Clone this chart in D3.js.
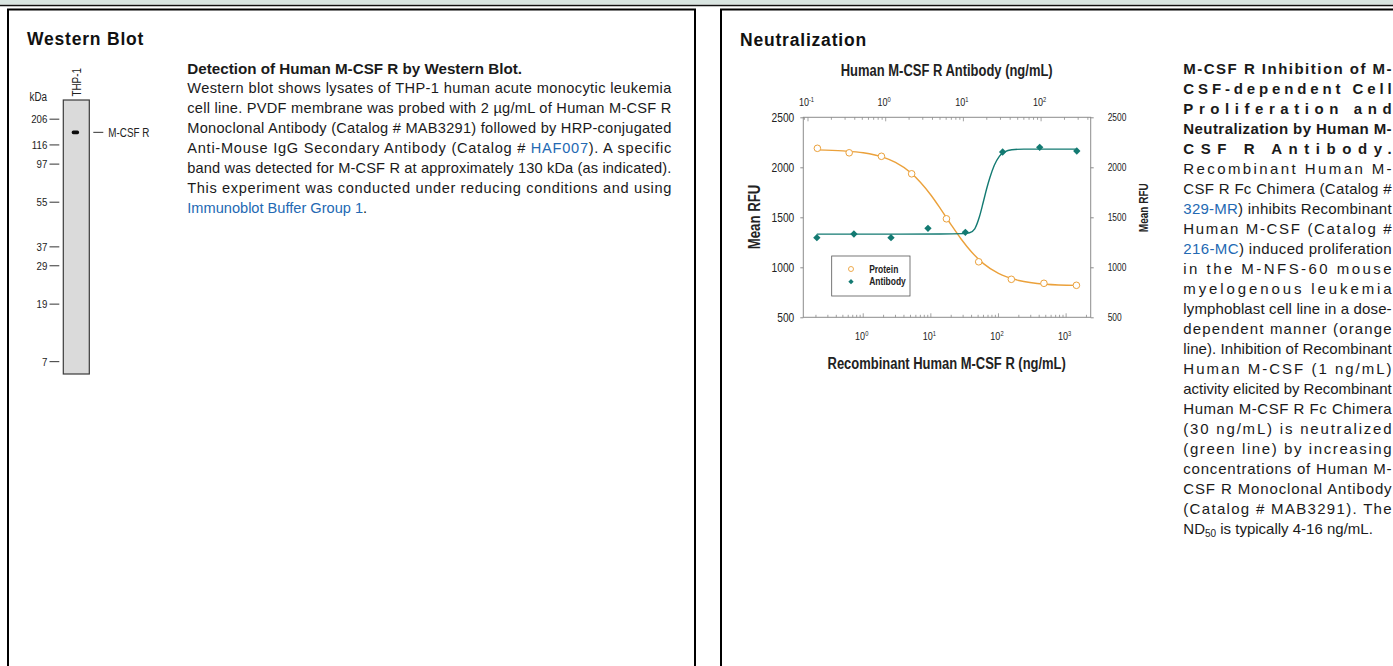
<!DOCTYPE html>
<html>
<head>
<meta charset="utf-8">
<script src="https://cdn.jsdelivr.net/npm/d3@7"></script>
<style>
    body { margin: 0; background: #fff; }
    svg { display: block; }
</style>
</head>
<body>
<svg id="page" width="1393" height="666"></svg>
<script>
//---- western blot data ----
var laneNames = [ "THP-1" ];
var markerKda = [ 206, 116, 97, 55, 37, 29, 19, 7 ];
//relative migration of each marker down the lane (0 = top, 1 = bottom)
var markerMigration = [ 0.070, 0.164, 0.234, 0.373, 0.536, 0.605, 0.745, 0.955 ];
var bandNames = [ "M-CSF R" ];
var bandMigration = [ 0.118 ];

//---- neutralization data ----
var proteinConc = [ 0.21, 0.62, 1.86, 5.2, 17, 51, 155, 470, 1420 ];
var proteinRFU  = [ 2190, 2145, 2110, 1935, 1485, 1055, 880, 840, 820 ];
var antibodyConc = [ 0.13, 0.39, 1.17, 3.5, 10.6, 32, 96, 288 ];
var antibodyRFU  = [ 1296, 1333, 1296, 1390, 1350, 2153, 2200, 2163 ];
//fitted curves
var proteinFitConc = [ 0.21, 0.5, 1, 2, 3, 5, 7, 10, 14, 20, 28, 40, 60, 100, 200, 500, 1420 ];
var proteinFitRFU  = [ 2174, 2164, 2145, 2099, 2049, 1948, 1851, 1723, 1582, 1424, 1283, 1153, 1037, 939, 868, 831, 819 ];
var antibodyFitConc = [ 0.13, 1, 5, 10, 12, 14, 16, 18, 20, 22, 25, 29, 34, 42, 60, 288 ];
var antibodyFitRFU  = [ 1332, 1332, 1333, 1337, 1345, 1385, 1500, 1650, 1790, 1900, 2020, 2110, 2155, 2176, 2182, 2182 ];
var rfuTicks = [ 500, 1000, 1500, 2000, 2500 ];
var proteinMajor = [ 1, 10, 100, 1000 ];
var antibodyMajor = [ 0.1, 1, 10, 100 ];
var legendNames = [ "Protein", "Antibody" ];

//---- panel texts ({...} marks a link) ----
var blotTitle = "Western Blot";
var neutTitle = "Neutralization";
var blotHeading = "Detection of Human M-CSF R by Western Blot.";
var blotLines = [
    "Western blot shows lysates of THP-1 human acute monocytic leukemia",
    "cell line. PVDF membrane was probed with 2 µg/mL of Human M-CSF R",
    "Monoclonal Antibody (Catalog # MAB3291) followed by HRP-conjugated",
    "Anti-Mouse IgG Secondary Antibody (Catalog # {HAF007}). A specific",
    "band was detected for M-CSF R at approximately 130 kDa (as indicated).",
    "This experiment was conducted under reducing conditions and using",
    "{Immunoblot Buffer Group 1}."
];
var neutBold = [
    "M-CSF R Inhibition of M-",
    "CSF-dependent Cell",
    "Proliferation and",
    "Neutralization by Human M-",
    "CSF R Antibody."
];
var neutLines = [
    "Recombinant Human M-",
    "CSF R Fc Chimera (Catalog #",
    "{329-MR}) inhibits Recombinant",
    "Human M-CSF (Catalog #",
    "{216-MC}) induced proliferation",
    "in the M-NFS-60 mouse",
    "myelogenous leukemia",
    "lymphoblast cell line in a dose-",
    "dependent manner (orange",
    "line). Inhibition of Recombinant",
    "Human M-CSF (1 ng/mL)",
    "activity elicited by Recombinant",
    "Human M-CSF R Fc Chimera",
    "(30 ng/mL) is neutralized",
    "(green line) by increasing",
    "concentrations of Human M-",
    "CSF R Monoclonal Antibody",
    "(Catalog # MAB3291). The"
];

var SANS = "'Liberation Sans', Arial, sans-serif";
var ORANGE = "#eba13b", TEAL = "#137a72", LINK = "#2369b3", INK = "#1a1a1a";

var svg = d3.select( "#page" );

//no condensed face is installed: squeeze the regular one
function condense( sel, k ) {
    sel.each( function() {
        var w = this.getComputedTextLength();
        d3.select( this ).attr( "textLength", w * k ).attr( "lengthAdjust", "spacingAndGlyphs" );
    } );
    return sel;
}

//---- page frame ----
svg.append( "rect" ).attr( "x", 0 ).attr( "y", 0 ).attr( "width", 1393 ).attr( "height", 4.5 )
    .attr( "fill", "#d9e5e1" );
svg.append( "line" ).attr( "x1", 0 ).attr( "x2", 1393 ).attr( "y1", 5.5 ).attr( "y2", 5.5 )
    .attr( "stroke", "#111" ).attr( "stroke-width", 1.6 );
svg.append( "path" ).attr( "d", "M8,670V9.5H695V670" )
    .attr( "fill", "none" ).attr( "stroke", "#000" ).attr( "stroke-width", 2 );
svg.append( "path" ).attr( "d", "M721,670V9.5H1396" )
    .attr( "fill", "none" ).attr( "stroke", "#000" ).attr( "stroke-width", 2 );

svg.append( "text" ).attr( "x", 27 ).attr( "y", 45 ).text( blotTitle )
    .style( "font", "bold 17.5px " + SANS ).style( "letter-spacing", "0.8px" ).attr( "fill", "#111" );
svg.append( "text" ).attr( "x", 740 ).attr( "y", 45.5 ).text( neutTitle )
    .style( "font", "bold 17.5px " + SANS ).style( "letter-spacing", "0.8px" ).attr( "fill", "#111" );

//write one line of text, links in blue; justified lines are stretched to width
function writeLine( g, str, x, y, width, font, justify ) {
    var t = g.append( "text" ).attr( "x", x ).attr( "y", y ).style( "font", font ).attr( "fill", INK );
    str.split( /(\{[^}]*\})/ ).filter( s => s.length ).forEach( function( s ) {
        var link = s[0] === "{";
        t.append( "tspan" ).text( link ? s.slice( 1, -1 ) : s ).attr( "fill", link ? LINK : INK );
    } );
    if( justify ) {
        var w = t.node().getComputedTextLength();
        t.attr( "textLength", width )
            .attr( "lengthAdjust", w > width ? "spacingAndGlyphs" : "spacing" );
    }
    return t;
}

//---- western blot description ----
var gBlotText = svg.append( "g" );
writeLine( gBlotText, blotHeading, 187.3, 73.5, 484, "bold 15.2px " + SANS, false );
blotLines.forEach( function( s, i ) {
    writeLine( gBlotText, s, 187.3, 73.5 + ( i + 1 ) * 19.97, 484, "14.6px " + SANS,
               i < blotLines.length - 1 );
} );

//---- neutralization description ----
var gNeutText = svg.append( "g" );
neutBold.forEach( function( s, i ) {
    writeLine( gNeutText, s, 1183.3, 74.3 + i * 19.98, 208.3, "bold 15px " + SANS, true );
} );
neutLines.forEach( function( s, i ) {
    writeLine( gNeutText, s, 1183.3, 74.3 + ( i + neutBold.length ) * 19.98, 208.3, "15px " + SANS, true );
} );
//last line carries a subscript
var last = gNeutText.append( "text" ).attr( "x", 1183.3 )
    .attr( "y", 74.3 + ( neutBold.length + neutLines.length ) * 19.98 )
    .style( "font", "15px " + SANS ).attr( "fill", INK );
last.append( "tspan" ).text( "ND" );
last.append( "tspan" ).text( "50" ).attr( "dy", 3.5 ).style( "font-size", "10px" );
last.append( "tspan" ).text( " is typically 4-16 ng/mL." ).attr( "dy", -3.5 );

//---- western blot image ----
var laneTop = 100, laneBottom = 374;
var yLane = d3.scaleLinear().domain( [0, 1] ).range( [laneTop, laneBottom] );
var xLane = d3.scaleBand().domain( laneNames ).range( [63.3, 89.3] );
var gBlot = svg.append( "g" );

gBlot.selectAll( "rect.lane" ).data( laneNames ).enter().append( "rect" )
    .attr( "class", "lane" )
    .attr( "x", d => xLane( d ) ).attr( "y", laneTop )
    .attr( "width", xLane.bandwidth() ).attr( "height", laneBottom - laneTop )
    .attr( "fill", "#dadada" ).attr( "stroke", "#3a3a3a" ).attr( "stroke-width", 1.2 );

gBlot.selectAll( "text.lane" ).data( laneNames ).enter().append( "text" )
    .attr( "class", "lane" )
    .attr( "transform", d => "translate(" + ( xLane( d ) + xLane.bandwidth() / 2 + 4.2 ) + ",96.5) rotate(-90)" )
    .style( "font", "12px " + SANS ).attr( "fill", "#222" )
    .text( d => d )
    .call( condense, 0.82 );

//the detected band
gBlot.selectAll( "rect.band" ).data( bandMigration ).enter().append( "rect" )
    .attr( "class", "band" )
    .attr( "x", xLane( laneNames[0] ) + 8.4 ).attr( "y", d => yLane( d ) - 1.8 )
    .attr( "width", 7.4 ).attr( "height", 3.6 ).attr( "rx", 1.6 )
    .attr( "fill", "#0d0d0d" );
gBlot.selectAll( "line.band" ).data( bandMigration ).enter().append( "line" )
    .attr( "class", "band" )
    .attr( "x1", 93.3 ).attr( "x2", 103.3 )
    .attr( "y1", d => yLane( d ) ).attr( "y2", d => yLane( d ) )
    .attr( "stroke", "#333" ).attr( "stroke-width", 1 );
gBlot.selectAll( "text.band" ).data( bandNames ).enter().append( "text" )
    .attr( "class", "band" )
    .attr( "x", 108.3 ).attr( "y", ( d, i ) => yLane( bandMigration[i] ) + 4.2 )
    .style( "font", "12px " + SANS ).attr( "fill", "#222" )
    .text( d => d )
    .call( condense, 0.82 );

//molecular weight markers
var gMark = gBlot.append( "g" ).selectAll( "g" ).data( markerKda ).enter().append( "g" )
    .attr( "transform", ( d, i ) => "translate(0," + yLane( markerMigration[i] ) + ")" );
gMark.append( "line" ).attr( "x1", 49.5 ).attr( "x2", 59.3 )
    .attr( "stroke", "#333" ).attr( "stroke-width", 1 );
gMark.append( "text" ).attr( "x", 47.3 ).attr( "y", 4 ).attr( "text-anchor", "end" )
    .style( "font", "11.8px " + SANS ).attr( "fill", "#222" )
    .text( d => d )
    .call( condense, 0.82 );
gBlot.append( "text" ).attr( "x", 38.3 ).attr( "y", 101 ).attr( "text-anchor", "middle" )
    .style( "font", "12px " + SANS ).attr( "fill", "#222" ).text( "kDa" )
    .call( condense, 0.82 );

//---- neutralization chart ----
var L = 803.3, R = 1090.7, T = 117.3, B = 317.3;
var yRFU = d3.scaleLinear().domain( [500, 2500] ).range( [B, T] );
var xProtein = d3.scaleLog().domain( [0.13, 2310] ).range( [L, R] );
var xAntibody = d3.scaleLog().domain( [0.087, 435] ).range( [L, R] );
var gChart = svg.append( "g" );

gChart.append( "rect" ).attr( "x", L ).attr( "y", T )
    .attr( "width", R - L ).attr( "height", B - T )
    .attr( "fill", "none" ).attr( "stroke", "#8c8c8c" ).attr( "stroke-width", 1 );

//left and right RFU axes
var gLeft = gChart.append( "g" ).attr( "transform", "translate(" + L + ",0)" )
    .call( d3.axisLeft( yRFU ).tickValues( rfuTicks ).tickFormat( d3.format( "d" ) )
           .tickSize( 3 ).tickPadding( 6 ) );
gLeft.select( ".domain" ).remove();
gLeft.selectAll( "line" ).attr( "stroke", "#8c8c8c" );
gLeft.selectAll( "text" ).style( "font", "12.8px " + SANS ).attr( "fill", "#222" ).call( condense, 0.8 );

var gRight = gChart.append( "g" ).attr( "transform", "translate(" + R + ",0)" )
    .call( d3.axisRight( yRFU ).tickValues( rfuTicks ).tickFormat( d3.format( "d" ) )
           .tickSize( 3 ).tickPadding( 14 ) );
gRight.select( ".domain" ).remove();
gRight.selectAll( "line" ).attr( "stroke", "#8c8c8c" );
gRight.selectAll( "text" ).style( "font", "10.5px " + SANS ).attr( "fill", "#222" ).call( condense, 0.8 );

//log axes: ticks inside the frame, labels written as powers of ten
function logAxis( scale, major, y, dir, labelY ) {
    var g = gChart.append( "g" );
    g.selectAll( "line" ).data( scale.ticks().filter( v => v >= scale.domain()[0] && v <= scale.domain()[1] ) )
        .enter().append( "line" )
        .attr( "x1", d => scale( d ) ).attr( "x2", d => scale( d ) )
        .attr( "y1", y )
        .attr( "y2", d => y + dir * ( major.indexOf( d ) >= 0 ? 4 : 2.5 ) )
        .attr( "stroke", "#8c8c8c" ).attr( "stroke-width", 0.8 );
    var lab = g.selectAll( "text" ).data( major ).enter().append( "text" )
        .attr( "x", d => scale( d ) - 1.5 ).attr( "y", labelY )
        .attr( "text-anchor", "middle" )
        .style( "font", "11px " + SANS ).attr( "fill", "#222" );
    lab.append( "tspan" ).text( "10" );
    lab.append( "tspan" ).text( d => Math.round( Math.log10( d ) ) )
        .attr( "dy", -4.5 ).style( "font-size", "7px" );
    condense( lab, 0.82 );
}
logAxis( xProtein, proteinMajor, B, -1, 340 );
logAxis( xAntibody, antibodyMajor, T, 1, 106 );

//axis titles
gChart.append( "text" ).attr( "x", 946.7 ).attr( "y", 76 ).attr( "text-anchor", "middle" )
    .style( "font", "bold 16px " + SANS ).attr( "fill", "#222" )
    .text( "Human M-CSF R Antibody (ng/mL)" ).call( condense, 0.81 );
gChart.append( "text" ).attr( "x", 946.7 ).attr( "y", 369.3 ).attr( "text-anchor", "middle" )
    .style( "font", "bold 16px " + SANS ).attr( "fill", "#222" )
    .text( "Recombinant Human M-CSF R (ng/mL)" ).call( condense, 0.81 );
gChart.append( "text" ).attr( "transform", "translate(759.5,217) rotate(-90)" )
    .attr( "text-anchor", "middle" )
    .style( "font", "bold 16.5px " + SANS ).attr( "fill", "#222" ).text( "Mean RFU" )
    .call( condense, 0.8 );
gChart.append( "text" ).attr( "transform", "translate(1147.8,207.7) rotate(-90)" )
    .attr( "text-anchor", "middle" )
    .style( "font", "bold 12.5px " + SANS ).attr( "fill", "#222" ).text( "Mean RFU" )
    .call( condense, 0.8 );

//fitted curves
var proteinFit = proteinFitConc.map( ( c, i ) => [c, proteinFitRFU[i]] );
var antibodyFit = antibodyFitConc.map( ( c, i ) => [c, antibodyFitRFU[i]] );
var proteinLine = d3.line().x( d => xProtein( d[0] ) ).y( d => yRFU( d[1] ) ).curve( d3.curveMonotoneX );
var antibodyLine = d3.line().x( d => xAntibody( d[0] ) ).y( d => yRFU( d[1] ) ).curve( d3.curveMonotoneX );

gChart.append( "path" ).attr( "d", proteinLine( proteinFit ) )
    .attr( "fill", "none" ).attr( "stroke", ORANGE ).attr( "stroke-width", 1.4 );
gChart.append( "path" ).attr( "d", antibodyLine( antibodyFit ) )
    .attr( "fill", "none" ).attr( "stroke", TEAL ).attr( "stroke-width", 1.4 );

//data points
var diamond = d3.symbol().type( d3.symbolSquare ).size( 27 );
gChart.append( "g" ).selectAll( "circle" ).data( proteinConc ).enter().append( "circle" )
    .attr( "cx", d => xProtein( d ) ).attr( "cy", ( d, i ) => yRFU( proteinRFU[i] ) )
    .attr( "r", 3.3 ).attr( "fill", "#fff" ).attr( "stroke", ORANGE ).attr( "stroke-width", 1 );
gChart.append( "g" ).selectAll( "path" ).data( antibodyConc ).enter().append( "path" )
    .attr( "d", diamond )
    .attr( "transform", ( d, i ) => "translate(" + xAntibody( d ) + "," + yRFU( antibodyRFU[i] ) + ") rotate(45)" )
    .attr( "fill", TEAL );

//legend
var gLeg = gChart.append( "g" ).attr( "transform", "translate(831.7,256)" );
gLeg.append( "rect" ).attr( "width", 78.3 ).attr( "height", 40 )
    .attr( "fill", "#fff" ).attr( "stroke", "#555" ).attr( "stroke-width", 0.8 );
var legItems = gLeg.selectAll( "g" ).data( legendNames ).enter().append( "g" )
    .attr( "transform", ( d, i ) => "translate(0," + ( 13 + i * 12.7 ) + ")" );
legItems.filter( ( d, i ) => i === 0 ).append( "circle" ).attr( "cx", 19.3 ).attr( "r", 2.5 )
    .attr( "fill", "#fff" ).attr( "stroke", ORANGE ).attr( "stroke-width", 0.9 );
legItems.filter( ( d, i ) => i === 1 ).append( "path" )
    .attr( "d", d3.symbol().type( d3.symbolSquare ).size( 14 ) )
    .attr( "transform", "translate(19.3,0) rotate(45)" ).attr( "fill", TEAL );
legItems.append( "text" ).attr( "x", 37.5 ).attr( "y", 3.6 )
    .style( "font", "bold 10.3px " + SANS ).attr( "fill", "#222" )
    .text( d => d )
    .call( condense, 0.82 );
</script>
</body>
</html>
